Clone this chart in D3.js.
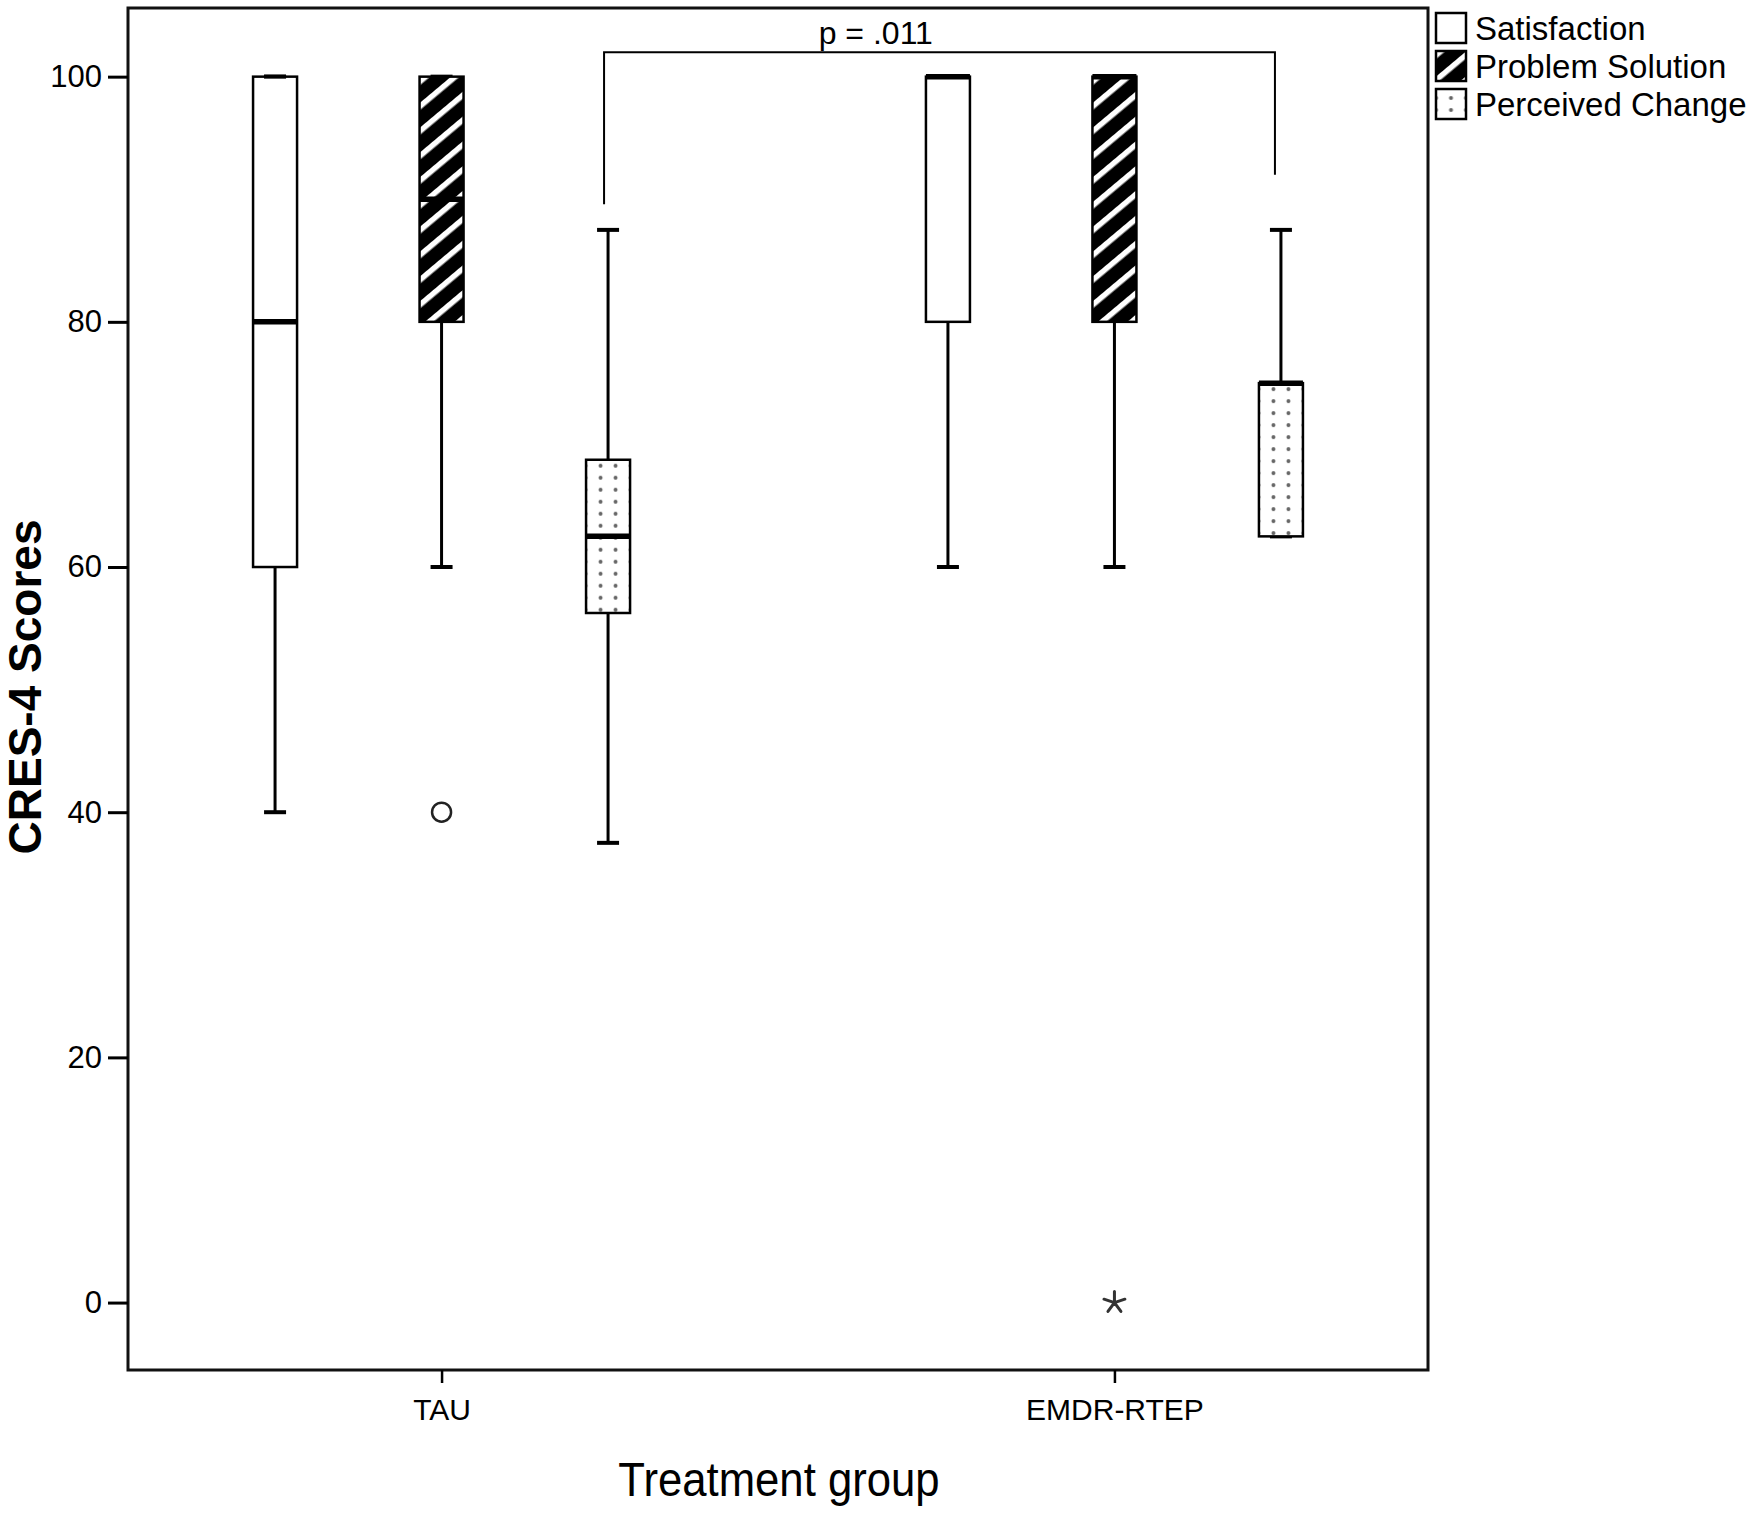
<!DOCTYPE html>
<html lang="en">
<head>
  <meta charset="utf-8"/>
  <title>CRES-4 Scores by treatment group</title>
  <script src="https://d3js.org/d3.v7.min.js"></script>
  <style>
    body { margin: 0; background: #fff; }
    text { font-family: "Liberation Sans", Arial, sans-serif; fill: #000; }
  </style>
</head>
<body>
<svg id="chart" width="1752" height="1518"></svg>
<script>
  // groups on the x axis and the three CRES-4 subscales
  const groups = ["TAU", "EMDR-RTEP"];
  const series = ["Satisfaction", "Problem Solution", "Perceived Change"];
  const yTicks = [0, 20, 40, 60, 80, 100];

  // five-number summaries: [low whisker, Q1, median, Q3, high whisker]
  const tauStats = [
    [40, 60, 80, 100, 100],
    [60, 80, 90, 100, 100],
    [37.5, 56.25, 62.5, 68.75, 87.5]
  ];
  const emdrStats = [
    [60, 80, 100, 100, 100],
    [60, 80, 100, 100, 100],
    [62.5, 62.5, 75, 75, 87.5]
  ];
  // outliers (circle) and extremes (star): [group, series, value]
  const outliers = [["TAU", "Problem Solution", 40]];
  const extremes = [["EMDR-RTEP", "Problem Solution", 0]];
  // significance bracket: from/to boxes, bracket level, end levels
  const bracket = { from: ["TAU", "Perceived Change"], to: ["EMDR-RTEP", "Perceived Change"],
                    level: 102, leftEnd: 89.6, rightEnd: 92, label: "p = .011" };

  const svg = d3.select("#chart");
  const pLeft = 128, pRight = 1428, pTop = 8, pBottom = 1370;
  const boxW = 44;

  const x = d3.scalePoint().domain(groups).range([pLeft, pRight]).padding(0.466);
  const inner = d3.scalePoint().domain(series).range([-166.5, 166.5]);
  const y = d3.scaleLinear().domain([-5.5, 105.6]).range([pBottom, pTop]);
  const cx = (g, s) => x(g) + inner(s);

  const boxes = [];
  groups.forEach((g, gi) => {
    const st = gi === 0 ? tauStats : emdrStats;
    series.forEach((s, si) => {
      boxes.push({ g: g, s: s, si: si, lo: st[si][0], q1: st[si][1], med: st[si][2], q3: st[si][3], hi: st[si][4] });
    });
  });

  // patterns
  const defs = svg.append("defs");
  function stripes(id, px, py) {
    const p = defs.append("pattern").attr("id", id)
      .attr("patternUnits", "userSpaceOnUse")
      .attr("width", 40).attr("height", 19)
      .attr("patternTransform", "translate(" + px + "," + py + ") rotate(-40)");
    p.append("rect").attr("width", 40).attr("height", 19).attr("fill", "#000");
    p.append("rect").attr("y", 0).attr("width", 40).attr("height", 5.5).attr("fill", "#fff");
  }
  function dots(id, px, py) {
    const p = defs.append("pattern").attr("id", id)
      .attr("patternUnits", "userSpaceOnUse")
      .attr("x", px).attr("y", py)
      .attr("width", 15).attr("height", 12);
    p.append("rect").attr("width", 15).attr("height", 12).attr("fill", "#fff");
    p.append("circle").attr("cx", 7.5).attr("cy", 6).attr("r", 2).attr("fill", "#666");
  }
  boxes.forEach((b, i) => {
    b.id = "fill" + i;
    if (b.si === 1) stripes(b.id, cx(b.g, b.s), y(b.q3) + 8);
    if (b.si === 2) dots(b.id, cx(b.g, b.s) - 15, y(b.q3));
  });
  const fillOf = b => b.si === 0 ? "#fff" : "url(#" + b.id + ")";

  // frame
  svg.append("rect").attr("x", pLeft).attr("y", pTop)
    .attr("width", pRight - pLeft).attr("height", pBottom - pTop)
    .attr("fill", "none").attr("stroke", "#111").attr("stroke-width", 3);

  // y axis
  const yAxis = svg.append("g").attr("transform", "translate(" + pLeft + ",0)")
    .call(d3.axisLeft(y).tickValues(yTicks).tickSize(20).tickPadding(6));
  yAxis.select(".domain").remove();
  yAxis.selectAll(".tick line").attr("stroke", "#000").attr("stroke-width", 3);
  yAxis.selectAll(".tick text").attr("font-size", 31).attr("fill", "#111")
    .attr("font-family", "Liberation Sans, Arial, sans-serif");

  // x axis
  const xAxis = svg.append("g").attr("transform", "translate(0," + pBottom + ")")
    .call(d3.axisBottom(x).tickSize(13).tickPadding(16));
  xAxis.select(".domain").remove();
  xAxis.selectAll(".tick line").attr("stroke", "#000").attr("stroke-width", 2.5);
  xAxis.selectAll(".tick text").attr("font-size", 30).attr("fill", "#111")
    .attr("font-family", "Liberation Sans, Arial, sans-serif");

  // axis titles
  svg.append("text").attr("transform", "translate(41,687) rotate(-90)")
    .attr("text-anchor", "middle").attr("font-size", 46).attr("font-weight", "bold")
    .text("CRES-4 Scores");
  svg.append("text").attr("transform", "translate(779,1496) scale(0.95,1.04)")
    .attr("text-anchor", "middle").attr("font-size", 46).attr("fill", "#222")
    .text("Treatment group");

  // whiskers
  const bx = svg.append("g");
  bx.selectAll("line.whisk").data(boxes).enter().append("line").attr("class", "whisk")
    .attr("x1", d => cx(d.g, d.s)).attr("x2", d => cx(d.g, d.s))
    .attr("y1", d => y(d.hi)).attr("y2", d => y(d.lo))
    .attr("stroke", "#000").attr("stroke-width", 3);
  ["lo", "hi"].forEach(k => {
    bx.selectAll("line.cap-" + k).data(boxes).enter().append("line").attr("class", "cap-" + k)
      .attr("x1", d => cx(d.g, d.s) - boxW / 4).attr("x2", d => cx(d.g, d.s) + boxW / 4)
      .attr("y1", d => y(d[k])).attr("y2", d => y(d[k]))
      .attr("stroke", "#000").attr("stroke-width", 4);
  });

  // boxes
  bx.selectAll("rect.box").data(boxes).enter().append("rect").attr("class", "box")
    .attr("x", d => cx(d.g, d.s) - boxW / 2).attr("width", boxW)
    .attr("y", d => y(d.q3)).attr("height", d => y(d.q1) - y(d.q3))
    .attr("fill", fillOf).attr("stroke", "#000").attr("stroke-width", 2.5);

  // high caps drawn again on top of the fill where Q3 equals the whisker end
  bx.selectAll("line.cap-top").data(boxes.filter(d => d.hi === d.q3 && d.si === 0)).enter()
    .append("line").attr("class", "cap-top")
    .attr("x1", d => cx(d.g, d.s) - boxW / 4).attr("x2", d => cx(d.g, d.s) + boxW / 4)
    .attr("y1", d => y(d.hi)).attr("y2", d => y(d.hi))
    .attr("stroke", "#000").attr("stroke-width", 4);

  // medians
  bx.selectAll("line.med").data(boxes).enter().append("line").attr("class", "med")
    .attr("x1", d => cx(d.g, d.s) - boxW / 2).attr("x2", d => cx(d.g, d.s) + boxW / 2)
    .attr("y1", d => y(d.med)).attr("y2", d => y(d.med))
    .attr("stroke", "#000").attr("stroke-width", 5.5);

  // outliers
  svg.selectAll("circle.out").data(outliers).enter().append("circle").attr("class", "out")
    .attr("cx", d => cx(d[0], d[1])).attr("cy", d => y(d[2])).attr("r", 9.5)
    .attr("fill", "none").attr("stroke", "#222").attr("stroke-width", 2.5);

  // extremes as a five-armed star
  const star = d3.range(5).map(i => {
    const a = -Math.PI / 2 + i * 2 * Math.PI / 5;
    return "M0,0L" + (11 * Math.cos(a)).toFixed(2) + "," + (11 * Math.sin(a)).toFixed(2);
  }).join("");
  svg.selectAll("path.ext").data(extremes).enter().append("path").attr("class", "ext")
    .attr("transform", d => "translate(" + cx(d[0], d[1]) + "," + y(d[2]) + ")")
    .attr("d", star).attr("fill", "none").attr("stroke", "#333").attr("stroke-width", 3)
    .attr("stroke-linecap", "round");

  // significance bracket
  const bx1 = cx(bracket.from[0], bracket.from[1]) - 4;
  const bx2 = cx(bracket.to[0], bracket.to[1]) - 6;
  svg.append("path")
    .attr("d", "M" + bx1 + "," + y(bracket.leftEnd) + "V" + y(bracket.level) +
               "H" + bx2 + "V" + y(bracket.rightEnd))
    .attr("fill", "none").attr("stroke", "#000").attr("stroke-width", 2);
  // label sits left of the bracket's middle in the original
  svg.append("text").attr("x", bx1 + 0.405 * (bx2 - bx1)).attr("y", y(bracket.level) - 8)
    .attr("text-anchor", "middle").attr("font-size", 32).text(bracket.label);

  // legend
  const leg = svg.append("g");
  series.forEach((s, i) => {
    const ly = 13 + i * 38;
    if (i === 1) stripes("legS", 1451, ly + 13);
    if (i === 2) dots("legD", 1443.5, ly + 3);
    leg.append("rect").attr("x", 1436).attr("y", ly).attr("width", 30).attr("height", 30)
      .attr("fill", i === 0 ? "#fff" : (i === 1 ? "url(#legS)" : "url(#legD)"))
      .attr("stroke", "#000").attr("stroke-width", 2.5);
    leg.append("text").attr("x", 1475).attr("y", ly + 27).attr("font-size", 33)
      .attr("fill", "#111").text(s);
  });
</script>
</body>
</html>
